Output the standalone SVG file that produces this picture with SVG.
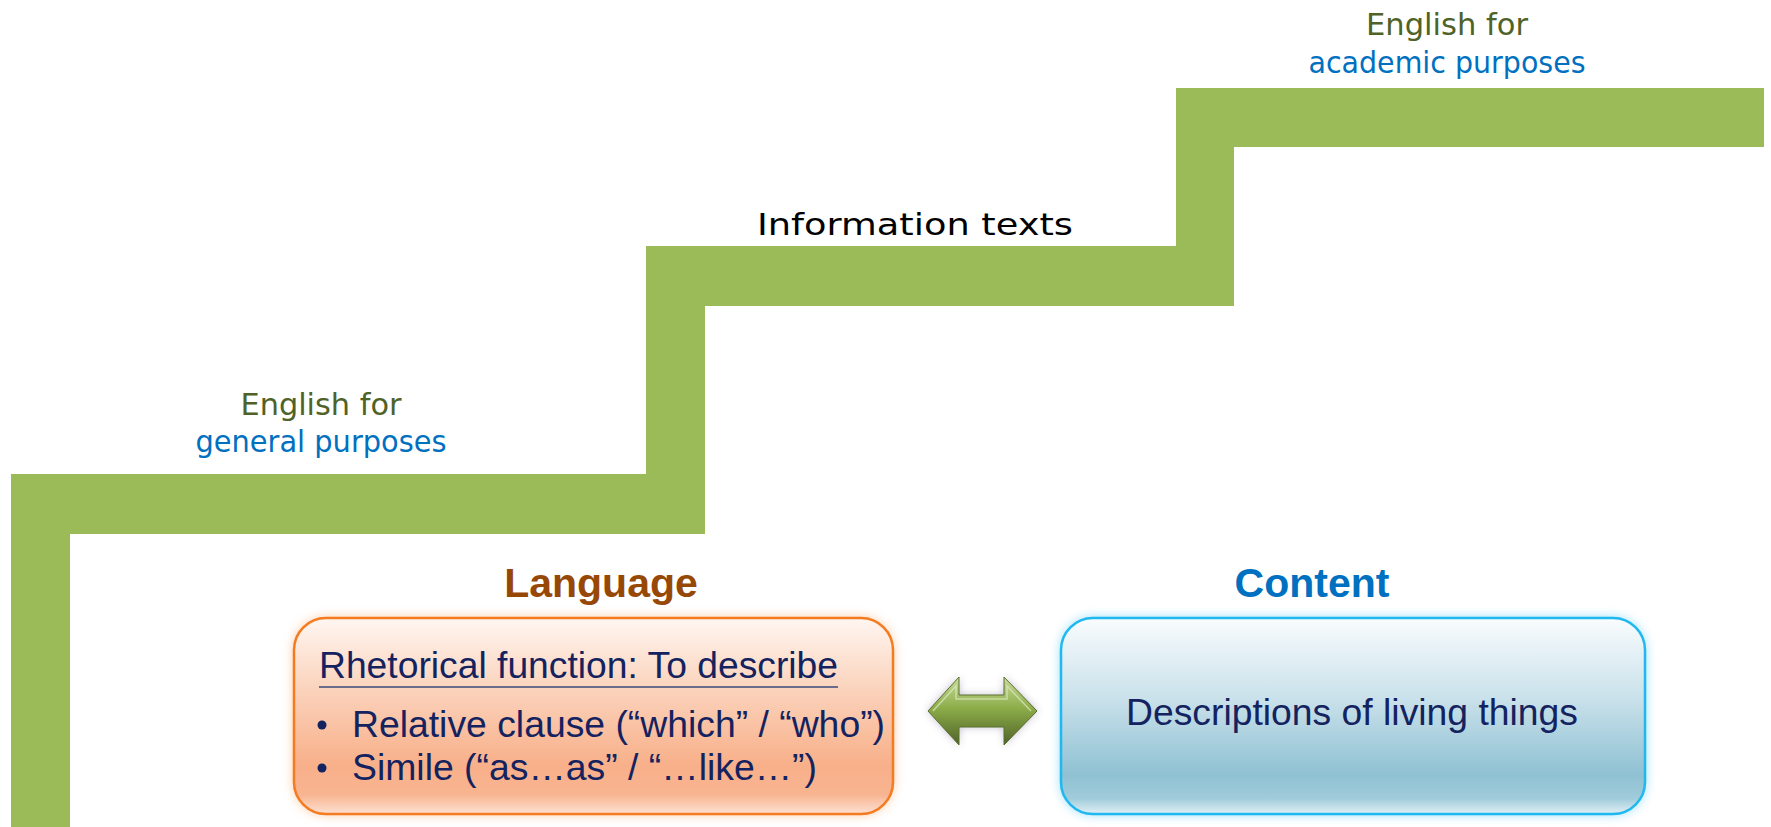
<svg xmlns="http://www.w3.org/2000/svg" width="1771" height="827" viewBox="0 0 1771 827">
  <style>
    .step { fill: #9BBB59; }
    .hand { font-family: "DejaVu Sans", "Noto Sans", sans-serif; font-size: 31px; text-anchor: middle; }
    .olive { fill: #4F6228; }
    .blue { fill: #0070C0; }
    .head { font-family: "Liberation Sans", Arial, sans-serif; font-weight: bold; font-size: 41px; text-anchor: middle; }
    .body { font-family: "Liberation Sans", Arial, sans-serif; font-size: 36px; fill: #14235F; }
  </style>
  <defs>
    <linearGradient id="orangeFill" x1="0" y1="0" x2="0" y2="1">
      <stop offset="0" stop-color="#FFF6F1"/>
      <stop offset="0.35" stop-color="#FBD4BE"/>
      <stop offset="0.75" stop-color="#F8B08A"/>
      <stop offset="0.9" stop-color="#F8B490"/>
      <stop offset="1" stop-color="#FCE1D2"/>
    </linearGradient>
    <linearGradient id="blueFill" x1="0" y1="0" x2="0" y2="1">
      <stop offset="0" stop-color="#F9FCFD"/>
      <stop offset="0.4" stop-color="#CBE2EB"/>
      <stop offset="0.8" stop-color="#8FC1D3"/>
      <stop offset="0.92" stop-color="#A0CBDA"/>
      <stop offset="1" stop-color="#E2F0F5"/>
    </linearGradient>
    <linearGradient id="arrowFill" x1="0" y1="0" x2="0" y2="1">
      <stop offset="0" stop-color="#C9DB9B"/>
      <stop offset="0.45" stop-color="#8DAE4A"/>
      <stop offset="1" stop-color="#4F6228"/>
    </linearGradient>
    <filter id="glow" x="-10%" y="-20%" width="120%" height="140%">
      <feGaussianBlur stdDeviation="6"/>
    </filter>
    <filter id="shadow" x="-30%" y="-40%" width="160%" height="180%">
      <feGaussianBlur stdDeviation="4"/>
    </filter>
  </defs>

  <!-- staircase -->
  <g id="stairs">
    <path class="step" d="M11,827 V474 H646 V246 H1176 V88 H1764 V147 H1234 V306 H705 V534 H70 V827 Z"/>
  </g>

  <!-- stage labels -->
  <g id="label-general">
    <text class="hand olive" x="321" y="415" textLength="161" lengthAdjust="spacingAndGlyphs">English for</text>
    <text class="hand blue" x="321" y="452" textLength="251" lengthAdjust="spacingAndGlyphs">general purposes</text>
  </g>
  <g id="label-information">
    <text class="hand" x="915" y="235" font-size="36" fill="#000000" textLength="316" lengthAdjust="spacingAndGlyphs">Information texts</text>
  </g>
  <g id="label-academic">
    <text class="hand olive" x="1447" y="35" textLength="162" lengthAdjust="spacingAndGlyphs">English for</text>
    <text class="hand blue" x="1447" y="73" textLength="277" lengthAdjust="spacingAndGlyphs">academic purposes</text>
  </g>

  <!-- language box -->
  <g id="language">
    <text class="head" x="601" y="597" fill="#984806">Language</text>
    <rect x="294" y="618" width="599" height="196" rx="32" fill="#F79646" opacity="0.55" filter="url(#glow)"/>
    <rect x="294" y="618" width="599" height="196" rx="32" fill="url(#orangeFill)" stroke="#F47B20" stroke-width="2.5"/>
    <text class="body" x="319" y="678" textLength="519" lengthAdjust="spacingAndGlyphs">Rhetorical function: To describe</text>
    <line x1="319" y1="687" x2="838" y2="687" stroke="#3A4A7A" stroke-width="1.5"/>
    <circle cx="322" cy="725" r="4.5" fill="#14235F"/>
    <text class="body" x="352" y="737" textLength="533" lengthAdjust="spacingAndGlyphs">Relative clause (“which” / “who”)</text>
    <circle cx="322" cy="768" r="4.5" fill="#14235F"/>
    <text class="body" x="352" y="780" textLength="465" lengthAdjust="spacingAndGlyphs">Simile (“as…as” / “…like…”)</text>
  </g>

  <!-- content box -->
  <g id="content">
    <text class="head blue" x="1312" y="597">Content</text>
    <rect x="1061" y="618" width="584" height="196" rx="32" fill="#00B0F0" opacity="0.45" filter="url(#glow)"/>
    <rect x="1061" y="618" width="584" height="196" rx="32" fill="url(#blueFill)" stroke="#1FB8F0" stroke-width="2.5"/>
    <text class="body" x="1352" y="725" text-anchor="middle" textLength="452" lengthAdjust="spacingAndGlyphs">Descriptions of living things</text>
  </g>

  <!-- two-way link between language and content -->
  <g id="connectors">
    <path d="M928,711 L959,677 V695 H1004 V677 L1037,711 L1004,745 V727 H959 V745 Z" fill="#7A6E8E" opacity="0.45" filter="url(#shadow)"/>
    <path d="M928,711 L959,677 V695 H1004 V677 L1037,711 L1004,745 V727 H959 V745 Z" fill="url(#arrowFill)" stroke="#5B7030" stroke-width="1"/>
    <path d="M933,711 L956,686 V699 H1007 V686 L1031,711" fill="none" stroke="#DDEAC0" stroke-width="1.5" opacity="0.7"/>
  </g>
</svg>
